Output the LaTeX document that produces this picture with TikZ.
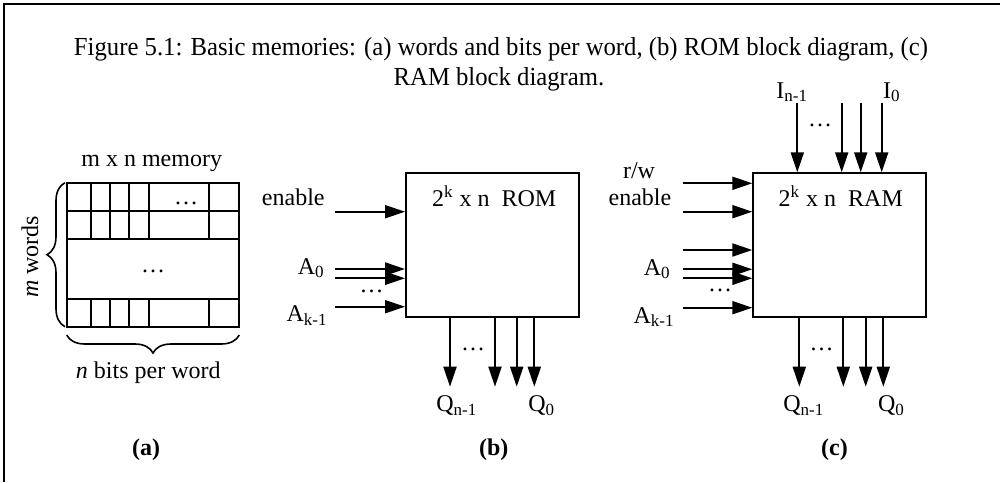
\documentclass[tikz,border=0pt]{standalone}
\usepackage{fontspec}
\setmainfont{Liberation Serif}
\newfontfamily\capfont[FakeStretch=0.95]{Liberation Serif}
\usetikzlibrary{arrows.meta,positioning,fit,calc,decorations.pathreplacing}
\newcommand{\pinsub}[1]{\textsubscript{\fontsize{8.5}{10}\selectfont #1}}
\newcommand{\pinsup}[1]{\textsuperscript{\fontsize{8.5}{10}\selectfont #1}}
\tikzset{
  frameline/.style={line width=1.4pt},
  cell/.style={line width=0.9pt},
  memblock/.style={draw,line width=1pt,inner sep=0pt},
  sig/.style={-{Triangle[length=10pt,width=6.5pt]},line width=1pt},
  pinlabel/.style={font=\fontsize{12}{14}\selectfont,inner sep=0pt},
  partlabel/.style={font=\fontsize{12}{14}\selectfont\bfseries,inner sep=0pt},
  captiontext/.style={font=\capfont\fontsize{13}{15}\selectfont,inner sep=0pt},
  dotsnode/.style={font=\fontsize{12}{14}\selectfont,inner sep=0pt},
  membrace/.style={decorate,decoration={brace,amplitude=9pt},line width=0.8pt}
}

\begin{document}
\begin{tikzpicture}[x=0.5pt,y=-0.5pt]
  \useasboundingbox (0,0) rectangle (1000,482);
  \draw[frameline] (4,482) -- (4,4) -- (1000,4);

  % caption
  \node[captiontext,anchor=base] (cap1) at (501,55) {Figure 5.1: Basic memories: (a) words and bits per word, (b) ROM block diagram, (c)};
  \node[captiontext,anchor=base] (cap2) at (499,85) {RAM block diagram.};

  % (a) words and bits
  \draw[cell] (66.7,182.7) rectangle (239.3,326.7);
  \foreach \y in {211,239.3,299.3} \draw[cell] (66.7,\y) -- (239.3,\y);
  \foreach \x in {90.7,110,129.3,149,209} {
    \draw[cell] (\x,182.7) -- (\x,239.3);
    \draw[cell] (\x,299.3) -- (\x,326.7);
  }
  \node[dotsnode] (rowdots) at (186,203) {\ldots};
  \node[dotsnode] (middots) at (153,271.7) {\ldots};
  \node[pinlabel,anchor=base] (memtitle) at (151.7,166) {m x n memory};
  \draw[membrace] (65,326.7) -- (65,182.7);
  \draw[membrace] (239.3,335) -- (66.7,335);
  \node[pinlabel,rotate=90] (words) at (30,256.7) {\textit{m} words};
  \node[pinlabel,anchor=base] (bits) at (148.3,378) {\textit{n} bits per word};
  \node[partlabel,anchor=base] (parta) at (146,455) {(a)};

  % (b) ROM
  \node[memblock,fit={(406,173.3) (579.3,317.3)}] (rom) {};
  \node[pinlabel,anchor=base west] (romname) at (431.7,206.7) {2\pinsup{k} x n\ \ ROM};
  \foreach \y [count=\i] in {211.7,269,278.3,306.7} {
    \coordinate (rin\i) at (335,\y);
    \draw[sig] (rin\i) -- (rin\i -| rom.west);
  }
  \foreach \x [count=\i] in {450,495,516.7,534.3} {
    \coordinate (rout\i) at (\x,386.7);
    \draw[sig] (rout\i |- rom.south) -- (rout\i);
  }
  \node[pinlabel,anchor=base east] (romen) at (325,205) {enable};
  \node[pinlabel,anchor=base east] (roma0) at (325,274) {A\pinsub{0}};
  \node[pinlabel,anchor=base east] (romak) at (328,321.7) {A\pinsub{k-1}};
  \node[dotsnode] (romadots) at (371.7,291) {\ldots};
  \node[dotsnode] (romqdots) at (473,349) {\ldots};
  \node[pinlabel,anchor=base west] (romqn) at (436,411.7) {Q\pinsub{n-1}};
  \node[pinlabel,anchor=base west] (romq0) at (528,411.7) {Q\pinsub{0}};
  \node[partlabel,anchor=base] (partb) at (493.7,455) {(b)};

  % (c) RAM
  \node[memblock,fit={(753.3,173.3) (926,316.7)}] (ram) {};
  \node[pinlabel,anchor=base west] (ramname) at (778.3,206) {2\pinsup{k} x n\ \ RAM};
  \foreach \y [count=\i] in {183.3,211.7,250,269.3,278.3,307.7} {
    \coordinate (ain\i) at (682.7,\y);
    \draw[sig] (ain\i) -- (ain\i -| ram.west);
  }
  \foreach \x [count=\i] in {797.3,841.7,860.7,881.7} {
    \coordinate (din\i) at (\x,102.7);
    \draw[sig] (din\i) -- (din\i |- ram.north);
  }
  \foreach \x [count=\i] in {799.3,843.3,865.7,883.3} {
    \coordinate (aout\i) at (\x,386.7);
    \draw[sig] (aout\i |- ram.south) -- (aout\i);
  }
  \node[pinlabel,anchor=base] (ramrw) at (639,178.3) {r/w};
  \node[pinlabel,anchor=base east] (ramen) at (671.7,205) {enable};
  \node[pinlabel,anchor=base east] (rama0) at (671,275) {A\pinsub{0}};
  \node[pinlabel,anchor=base east] (ramak) at (675,323) {A\pinsub{k-1}};
  \node[dotsnode] (ramadots) at (720,290) {\ldots};
  \node[pinlabel,anchor=base west] (ramin) at (776,98.3) {I\pinsub{n-1}};
  \node[pinlabel,anchor=base west] (rami0) at (882.7,98.3) {I\pinsub{0}};
  \node[dotsnode] (ramidots) at (820,125) {\ldots};
  \node[dotsnode] (ramqdots) at (821.7,349) {\ldots};
  \node[pinlabel,anchor=base west] (ramqn) at (783,411.7) {Q\pinsub{n-1}};
  \node[pinlabel,anchor=base west] (ramq0) at (877.7,411.7) {Q\pinsub{0}};
  \node[partlabel,anchor=base] (partc) at (834.5,455) {(c)};
\end{tikzpicture}
\end{document}
